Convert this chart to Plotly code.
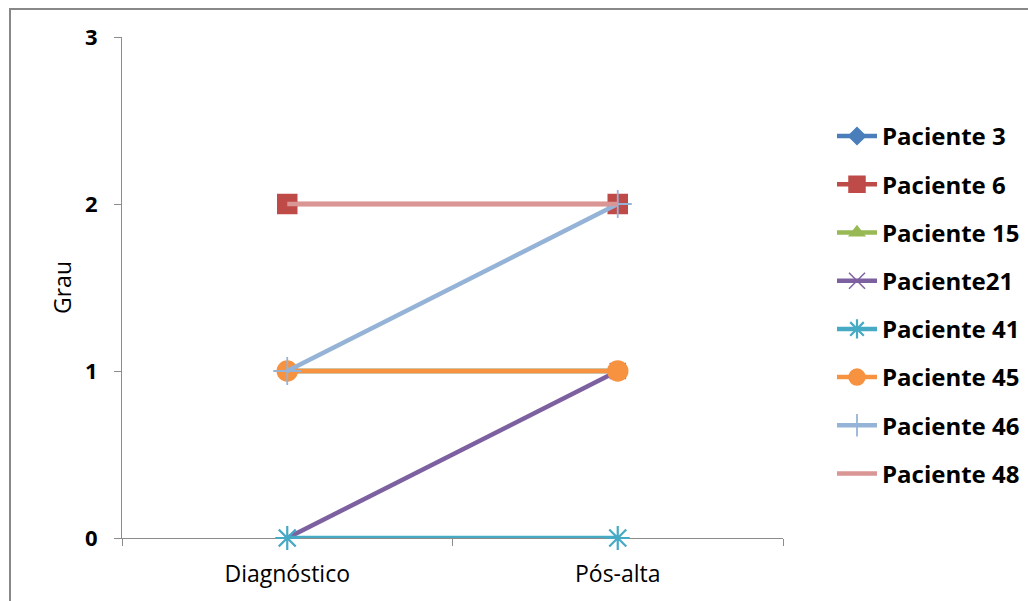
import plotly.graph_objects as go

# Grau por paciente em dois momentos
momentos = ["Diagnóstico", "Pós-alta"]
pacientes = ["Paciente 3", "Paciente 6", "Paciente 15", "Paciente21",
             "Paciente 41", "Paciente 45", "Paciente 46", "Paciente 48"]
p3 = [1, 1]
p6 = [2, 2]
p15 = [1, 1]
p21 = [0, 1]
p41 = [0, 0]
p45 = [1, 1]
p46 = [1, 2]
p48 = [2, 2]
series = [p3, p6, p15, p21, p41, p45, p46, p48]
y_ticks = [0, 1, 2, 3]

cores = ["#4A7EBB", "#BE4B48", "#98B954", "#7D60A0",
         "#46AAC5", "#F69240", "#95B3D7", "#D99694"]
simbolos = ["diamond", "square", "triangle-up", "x-thin-open",
            "asterisk-open", "circle", "cross-thin-open", None]
tamanhos = [13, 19, 13, 16, 20, 20, 20, 0]
bordas = [1.5, 1.5, 1.5, 1.5, 2.2, 1.5, 1.8, 0]

fig = go.Figure()
for nome, vals, cor, simb, tam, bw in zip(pacientes, series, cores, simbolos, tamanhos, bordas):
    marker = dict(color=cor, size=tam, line=dict(color=cor, width=bw))
    if simb is None:
        mode = "lines"
    else:
        mode = "lines+markers"
        marker["symbol"] = simb
    fig.add_trace(go.Scatter(
        x=momentos, y=vals, name=nome, mode=mode, legendgroup=nome,
        line=dict(color=cor, width=4.5), marker=marker, cliponaxis=False,
    ))

L, R, T, B = 122, 245, 37, 63
W, H = 1028, 601
pw, ph = W - L - R, H - T - B

def px_x(x):
    return (x - L) / pw

def px_y(y):
    return (H - B - y) / ph

fig.update_layout(
    width=W, height=H,
    margin=dict(l=L, r=R, t=T, b=B, pad=0, autoexpand=False),
    plot_bgcolor="white", paper_bgcolor="white",
    font=dict(family="Open Sans", size=23, color="black"),
    showlegend=True,
    legend=dict(
        x=px_x(832), y=px_y(114), xanchor="left", yanchor="top",
        font=dict(family="Open Sans", size=24, color="black", weight="bold"),
        tracegroupgap=14, itemwidth=40,
        bgcolor="rgba(0,0,0,0)",
    ),
    xaxis=dict(
        type="category", range=[-0.5, 1.5], tickson="boundaries",
        showline=True, linecolor="#8C8C8C", linewidth=1.2,
        ticks="outside", ticklen=7, tickcolor="#8C8C8C",
        showgrid=False, zeroline=False, layer="below traces",
        ticklabelstandoff=15,
        tickfont=dict(family="Open Sans", size=23, color="black"),
    ),
    yaxis=dict(
        range=[0, 3], tickvals=y_ticks,
        showline=True, linecolor="#8C8C8C", linewidth=1.2,
        ticks="outside", ticklen=7, tickcolor="#8C8C8C",
        showgrid=False, zeroline=False, layer="below traces",
        ticklabelstandoff=12,
        tickfont=dict(family="Open Sans", size=22, color="black", weight="bold"),
        title=dict(text="Grau", standoff=6,
                   font=dict(family="Open Sans", size=23, color="black")),
    ),
    shapes=[
        dict(type="rect", xref="paper", yref="paper",
             x0=px_x(10), x1=px_x(1060), y0=px_y(640), y1=px_y(9),
             line=dict(color="#888888", width=2), fillcolor="rgba(0,0,0,0)",
             layer="below"),
    ],
)

fig.write_html("out.html")
